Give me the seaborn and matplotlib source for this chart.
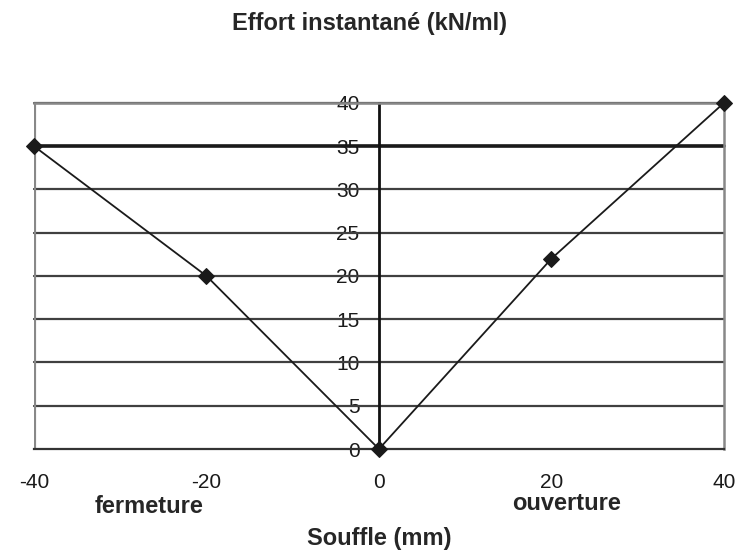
import matplotlib
matplotlib.use('Agg')
import matplotlib.pyplot as plt
import seaborn as sns
import pandas as pd

# données
souffle = [-40, -20, 0, 20, 40]
effort = [35, 20, 0, 22, 40]
y_ticks = [0, 5, 10, 15, 20, 25, 30, 35, 40]
x_ticks = [-40, -20, 0, 20, 40]
seuil = 35

sns.set_style("white")
plt.rcParams['font.family'] = ['Liberation Sans', 'DejaVu Sans']
plt.rcParams['axes.unicode_minus'] = False

df = pd.DataFrame({"souffle": souffle, "effort": effort})

fig = plt.figure(figsize=(7.38, 5.53), dpi=100)
ax = fig.add_axes([0.046, 0.188, 0.935, 0.626])

# grille horizontale
for v in y_ticks[1:]:
    ax.axhline(v, color='#404040', lw=1.6, zorder=1)
ax.axhline(seuil, color='#1a1a1a', lw=2.6, zorder=2)

sns.lineplot(data=df, x="souffle", y="effort", color='#1a1a1a', lw=1.3,
             marker='D', markersize=8, markeredgecolor='#1a1a1a', ax=ax, zorder=3)
for l in ax.lines:
    l.set_clip_on(False)

ax.set_xlim(-40, 40)
ax.set_ylim(0, 40)
ax.set_xticks(x_ticks)
ax.set_yticks(y_ticks)
ax.tick_params(axis='both', labelsize=15, width=1.2, colors='#1a1a1a')
ax.tick_params(axis='x', length=5, pad=12)
ax.tick_params(axis='y', length=6, pad=8)

ax.spines['left'].set_position(('data', 0))
ax.spines['left'].set_linewidth(2)
ax.spines['left'].set_color('#111111')
ax.spines['bottom'].set_linewidth(1.6)
ax.spines['bottom'].set_color('#333333')
for s in ['top', 'right']:
    ax.spines[s].set_color('#888888')
    ax.spines[s].set_linewidth(1.8)
ax.axvline(-40, color='#888888', lw=3, zorder=1)

ax.set_xlabel("Souffle (mm)", fontsize=17, fontweight='bold')
ax.xaxis.set_label_coords(0.5, -0.277)
ax.xaxis.label.set_va('baseline')
ax.set_ylabel("")
fig.text(0.5, 0.946, "Effort instantané (kN/ml)", ha='center', va='baseline',
         fontsize=17, fontweight='bold')

ax.text(-26.7, -7.4, "fermeture", ha='center', va='baseline', fontsize=17, fontweight='bold')
ax.text(21.7, -7.1, "ouverture", ha='center', va='baseline', fontsize=17, fontweight='bold')

plt.savefig("out.png", dpi=100)
plt.close()
